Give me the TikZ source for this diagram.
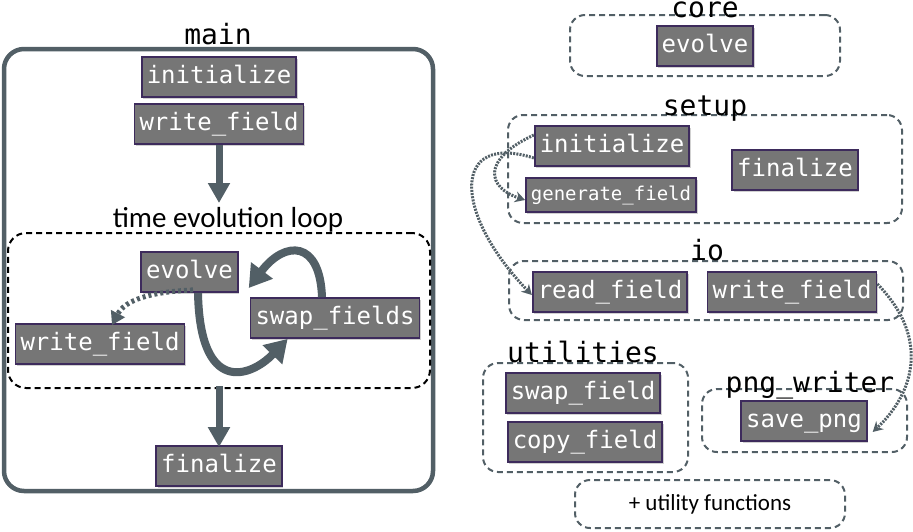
\documentclass[tikz,border=0pt]{standalone}
\usepackage{fontspec}
\setmainfont{Carlito}
\newfontfamily\monof{DejaVu Sans Mono}
\usetikzlibrary{arrows.meta,shadows}
\definecolor{lgray}{HTML}{525F66}
\definecolor{fnfill}{HTML}{767676}
\definecolor{fnborder}{HTML}{3D2B5C}
\tikzset{
  fn/.style={draw=fnborder, line width=1.8pt, fill=fnfill, text=white,
    font=\monof\fontsize{24}{24}\selectfont, minimum height=40, inner xsep=5,
    text height=17, text depth=5, anchor=center,
    drop shadow={shadow xshift=1.5pt,shadow yshift=-1.5pt,opacity=.3,fill=black!60}},
  fnsmall/.style={fn, font=\monof\fontsize{19}{19}\selectfont, minimum height=34, text height=14, text depth=4},
  cont/.style={draw=lgray, line width=2pt, dash pattern=on 6pt off 4pt, rounded corners=15pt,
    minimum width=#1, anchor=center},
  ttl/.style={font=\monof\fontsize{28}{28}\selectfont, anchor=base, inner sep=0},
  bigarrow/.style={draw=lgray, line width=8pt, -{Triangle[width=26pt,length=22pt]}},
  straightarrow/.style={draw=lgray, line width=7pt, -{Triangle[width=21pt,length=20pt]}},
  thickdot/.style={draw=lgray, line width=5pt, dash pattern=on 3pt off 3pt, -{Triangle[width=15pt,length=13pt]}},
  thindot/.style={draw=lgray, line width=3pt, dash pattern=on 2pt off 1.2pt, -{Stealth[width=11pt,length=10pt]}},
}
\begin{document}
\begin{tikzpicture}[x=1pt,y=-1pt]
\useasboundingbox (0,0) rectangle (913,531);
% ---------- main ----------
\node[draw=lgray, line width=4.5pt, rounded corners=20pt, minimum width=429, minimum height=442, anchor=center,
  drop shadow={shadow xshift=1.5pt,shadow yshift=-1.5pt,opacity=.25,fill=black!60}, fill=white] (mainbox) at (218.5,270) {};
\node[ttl] (maint) at (218,44) {main};
\node[fn] (minit) at (219,77) {initialize};
\node[fn] (mwrite) at (219,124) {write\_field};
\node[font=\fontsize{29}{29}\selectfont, anchor=base, inner sep=0] (loopt) at (228,227) {time evolution loop};
\node[draw=black, line width=2pt, dash pattern=on 6pt off 4pt, rounded corners=18pt,
  minimum width=422, minimum height=155, anchor=center] (loop) at (219,310.5) {};
\node[fn] (mevolve) at (189.5,272) {evolve};
\node[fn] (mswap) at (335,318) {swap\_fields};
\node[fn] (mlwrite) at (100,344) {write\_field};
\node[fn] (mfin) at (219,466) {finalize};
\coordinate (arrend) at (219,203);
\draw[straightarrow] (mwrite.south) -- (arrend);
\draw[straightarrow] ([yshift=3]loop.south) -- ([yshift=-2]mfin.north);
\draw[bigarrow] ([xshift=8.5]mevolve.south) .. controls (200,395) and (250,378) .. ([xshift=38]mswap.south west);
\draw[bigarrow] ([xshift=-13]mswap.north) .. controls (320,240) and (285,240) .. ([xshift=10,yshift=-16]mevolve.east);
\draw[thickdot] ([xshift=3.5,yshift=3]mevolve.south) .. controls (150,292) and (125,300) .. ([xshift=12,yshift=-2]mlwrite.north);
% ---------- core ----------
\node[cont=270, minimum height=61] (core) at (705,45.5) {};
\node[ttl] (coret) at (705,17) {core};
\node[fn] (cevolve) at (705,46) {evolve};
% ---------- setup ----------
\node[cont=394, minimum height=108] (setup) at (705,169) {};
\node[ttl] (setupt) at (705,115) {setup};
\node[fn] (sinit) at (612,146) {initialize};
\node[fnsmall] (sgen) at (611,195) {generate\_field};
\node[fn] (sfin) at (795,170) {finalize};
% ---------- io ----------
\node[cont=394, minimum height=59] (io) at (706,290.5) {};
\node[ttl] (iot) at (707,260) {io};
\node[fn] (ioread) at (610,292) {read\_field};
\node[fn] (iowrite) at (792,292) {write\_field};
% ---------- utilities ----------
\node[cont=205, minimum height=109] (util) at (585.5,417.5) {};
\node[ttl] (utilt) at (583,362) {utilities};
\node[fn] (uswap) at (583,393) {swap\_field};
\node[fn] (ucopy) at (585,442) {copy\_field};
% ---------- png_writer ----------
\node[cont=205, minimum height=63] (png) at (804.5,420.5) {};
\node[ttl] (pngt) at (810,392) {png\_writer};
\node[fn] (psave) at (804,421) {save\_png};
% ---------- utility functions ----------
\node[cont=270, minimum height=48, font=\fontsize{23}{23}\selectfont] (ufun) at (710,504) {+ utility functions};
% ---------- dotted connectors ----------
\draw[thindot] ([yshift=-12]sinit.west) .. controls (452,132) and (452,212) .. ([yshift=-3]ioread.west);
\draw[thindot] ([yshift=11]sinit.west) .. controls (480,160) and (488,188) .. ([yshift=-5]sgen.west);
\draw[thindot] ([yshift=8]iowrite.east) .. controls (932,340) and (912,395) .. ([xshift=5,yshift=-11]psave.east);
\end{tikzpicture}
\end{document}
